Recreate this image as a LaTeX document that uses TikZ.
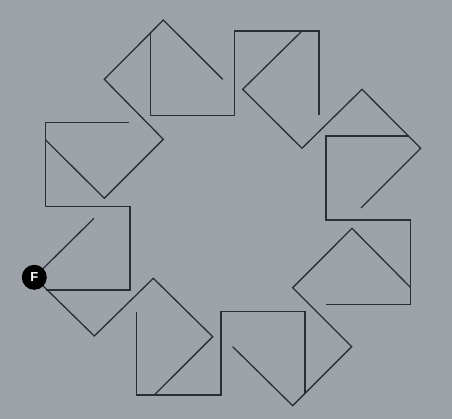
\documentclass[tikz,border=0pt]{standalone}
\usepackage{fontspec}
\setmainfont{Liberation Sans}
\definecolor{bg}{HTML}{9EA3AA}
\definecolor{ink}{HTML}{2A2E35}
\begin{document}
\begin{tikzpicture}[x=1pt,y=-1pt,
  trail/.style={draw=ink,line width=1.3pt,line join=miter},
  turtle/.style={circle,fill=black,text=white,inner sep=0pt,minimum size=25pt,font=\bfseries\fontsize{13}{13}\selectfont}]
\fill[bg] (0,0) rectangle (452,419);
\useasboundingbox (0,0) rectangle (452,419);
% motif A (left axis squares)
\coordinate (a1) at (45.7,290); \coordinate (a2) at (130,290); \coordinate (a3) at (130,206.3);
\coordinate (a4) at (45.7,206.3); \coordinate (a5) at (45.7,122.3); \coordinate (a6) at (129.3,122.3);
% motif B (upper-left diagonal)
\coordinate (b1) at (45.7,140); \coordinate (b2) at (104.3,198.3); \coordinate (b3) at (163.3,139.3);
\coordinate (b4) at (104.3,79.3); \coordinate (b5) at (163.3,20); \coordinate (b6) at (222.7,79.3);
% motif C (top axis squares)
\coordinate (c1) at (150.7,31.7); \coordinate (c2) at (150.7,115.3); \coordinate (c3) at (234.7,115.3);
\coordinate (c4) at (234.7,31); \coordinate (c5) at (319,31); \coordinate (c6) at (319,115);
% motif D (upper-right diagonal)
\coordinate (d1) at (302,31); \coordinate (d2) at (242.7,89.3); \coordinate (d3) at (302,148.3);
\coordinate (d4) at (362,89.3); \coordinate (d5) at (420.7,148.3); \coordinate (d6) at (361,208);
% motif E (right axis squares)
\coordinate (e1) at (408.7,136); \coordinate (e2) at (326,136); \coordinate (e3) at (326,220);
\coordinate (e4) at (410.3,220); \coordinate (e5) at (410.3,304.3); \coordinate (e6) at (326,304.3);
% motif G (lower-right diagonal)
\coordinate (g1) at (410.3,287.3); \coordinate (g2) at (352,228.3); \coordinate (g3) at (292.7,287.7);
\coordinate (g4) at (351.7,346.7); \coordinate (g5) at (292.7,405.7); \coordinate (g6) at (232.7,346.7);
% motif H (bottom axis squares)
\coordinate (h1) at (305,394.3); \coordinate (h2) at (305,311.7); \coordinate (h3) at (221,311.7);
\coordinate (h4) at (221,395); \coordinate (h5) at (136.7,395); \coordinate (h6) at (136.7,311.7);
% motif K (lower-left diagonal, through the turtle)
\coordinate (k1) at (154.3,395); \coordinate (k2) at (212.7,336.7); \coordinate (k3) at (153.3,278.3);
\coordinate (k4) at (94.3,336); \coordinate (k5) at (34.3,277.3); \coordinate (k6) at (94,218.3);

\draw[trail] (a1) -- (a2) -- (a3) -- (a4) -- (a5) -- (a6);
\draw[trail] (b1) -- (b2) -- (b3) -- (b4) -- (b5) -- (b6);
\draw[trail] (c1) -- (c2) -- (c3) -- (c4) -- (c5) -- (c6);
\draw[trail] (d1) -- (d2) -- (d3) -- (d4) -- (d5) -- (d6);
\draw[trail] (e1) -- (e2) -- (e3) -- (e4) -- (e5) -- (e6);
\draw[trail] (g1) -- (g2) -- (g3) -- (g4) -- (g5) -- (g6);
\draw[trail] (h1) -- (h2) -- (h3) -- (h4) -- (h5) -- (h6);
\draw[trail] (k1) -- (k2) -- (k3) -- (k4) -- (k5) -- (k6);
\node[turtle] (F) at (k5) {F};
\end{tikzpicture}
\end{document}
